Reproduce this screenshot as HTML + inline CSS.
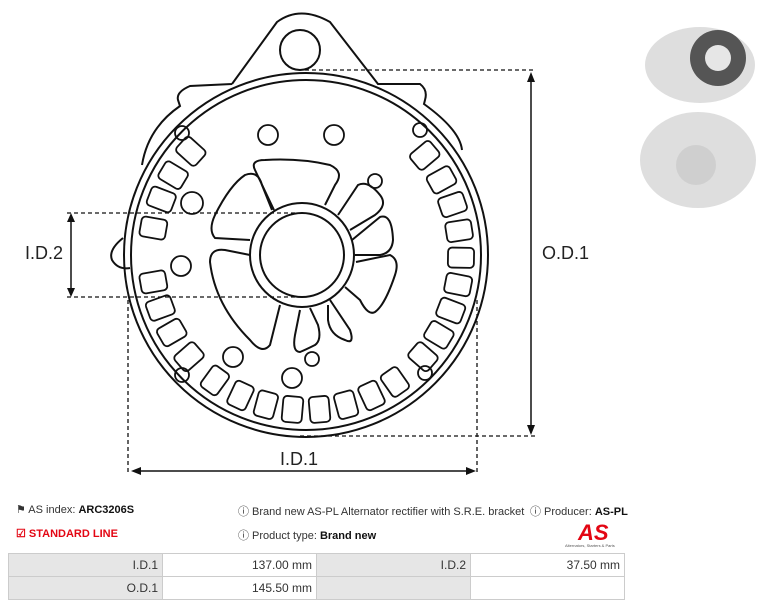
<!DOCTYPE html>
<html><head><meta charset="utf-8"><style>
body{margin:0;width:769px;height:608px;background:#fff;font-family:"Liberation Sans",sans-serif;position:relative;overflow:hidden}
.t{position:absolute;font-size:11px;color:#333;white-space:nowrap}
b{color:#111}
table{position:absolute;left:8px;top:553px;border-collapse:collapse;font-size:12px;color:#333;table-layout:fixed;width:616px}
td{border:1px solid #ccc;height:23px;width:154px;text-align:right;padding:0 4px;box-sizing:border-box}
td.g{background:#e6e6e6}
</style></head><body>
<svg width="769" height="608" style="position:absolute;left:0;top:0" fill="none" stroke="#111" stroke-width="2">
<path d="M232 84 L277 22 Q300 5 330 22 L378 84 L420 84 Q428 90 425 100 L424 104 Q460 130 462 150 M232 84 L190 86 Q176 92 178 100 L180 106 Q148 128 142 165"/>
<circle cx="300" cy="50" r="20"/>
<path d="M123 238 Q108 250 112 260 Q118 270 130 268"/>
<circle cx="306" cy="255" r="182"/>
<circle cx="306" cy="255" r="175"/>
<circle cx="302" cy="255" r="52"/>
<circle cx="302" cy="255" r="42"/>
<g stroke-width="2">
<path d="M274 210 L255 170 Q250 160 265 160 Q300 158 330 165 Q345 172 335 185 L325 205"/>
<path d="M338 215 L358 185 Q368 180 380 195 Q388 205 375 215 L350 230"/>
<path d="M352 240 L380 217 Q392 213 393 240 Q392 253 380 255 L355 255"/>
<path d="M356 262 L390 255 Q400 260 395 275 Q385 305 375 312 Q368 316 360 300 L345 287"/>
<path d="M330 300 L350 330 Q355 345 345 340 Q330 335 328 320 L328 305"/>
<path d="M310 308 L318 325 Q322 340 315 345 Q305 350 300 352 Q292 352 295 335 L300 310"/>
<path d="M280 305 L270 345 Q262 355 250 340 Q215 305 210 262 Q210 248 225 250 L250 255"/>
<path d="M250 240 L215 238 Q208 230 215 215 Q230 185 245 175 Q258 170 262 185 L272 210"/>
</g>
<g stroke-width="1.8">
<circle cx="268" cy="135" r="10"/><circle cx="334" cy="135" r="10"/><circle cx="375" cy="181" r="7"/>
<circle cx="192" cy="203" r="11"/><circle cx="181" cy="266" r="10"/><circle cx="233" cy="357" r="10"/>
<circle cx="292" cy="378" r="10"/><circle cx="312" cy="359" r="7"/>
<circle cx="182" cy="133" r="7"/><circle cx="420" cy="130" r="7"/><circle cx="182" cy="375" r="7"/><circle cx="425" cy="373" r="7"/>
</g>
<g stroke-width="1.8">
<rect x="296" y="87" width="20" height="26" rx="4" transform="rotate(50 306 255)"/>
<rect x="296" y="87" width="20" height="26" rx="4" transform="rotate(61 306 255)"/>
<rect x="296" y="87" width="20" height="26" rx="4" transform="rotate(71 306 255)"/>
<rect x="296" y="87" width="20" height="26" rx="4" transform="rotate(81 306 255)"/>
<rect x="296" y="87" width="20" height="26" rx="4" transform="rotate(91 306 255)"/>
<rect x="296" y="87" width="20" height="26" rx="4" transform="rotate(101 306 255)"/>
<rect x="296" y="87" width="20" height="26" rx="4" transform="rotate(111 306 255)"/>
<rect x="296" y="87" width="20" height="26" rx="4" transform="rotate(121 306 255)"/>
<rect x="296" y="87" width="20" height="26" rx="4" transform="rotate(131 306 255)"/>
<rect x="296" y="87" width="20" height="26" rx="4" transform="rotate(145 306 255)"/>
<rect x="296" y="87" width="20" height="26" rx="4" transform="rotate(155 306 255)"/>
<rect x="296" y="87" width="20" height="26" rx="4" transform="rotate(165 306 255)"/>
<rect x="296" y="87" width="20" height="26" rx="4" transform="rotate(175 306 255)"/>
<rect x="296" y="87" width="20" height="26" rx="4" transform="rotate(185 306 255)"/>
<rect x="296" y="87" width="20" height="26" rx="4" transform="rotate(195 306 255)"/>
<rect x="296" y="87" width="20" height="26" rx="4" transform="rotate(205 306 255)"/>
<rect x="296" y="87" width="20" height="26" rx="4" transform="rotate(216 306 255)"/>
<rect x="296" y="87" width="20" height="26" rx="4" transform="rotate(229 306 255)"/>
<rect x="296" y="87" width="20" height="26" rx="4" transform="rotate(240 306 255)"/>
<rect x="296" y="87" width="20" height="26" rx="4" transform="rotate(250 306 255)"/>
<rect x="296" y="87" width="20" height="26" rx="4" transform="rotate(260 306 255)"/>
<rect x="296" y="87" width="20" height="26" rx="4" transform="rotate(280 306 255)"/>
<rect x="296" y="87" width="20" height="26" rx="4" transform="rotate(291 306 255)"/>
<rect x="296" y="87" width="20" height="26" rx="4" transform="rotate(301 306 255)"/>
<rect x="296" y="87" width="20" height="26" rx="4" transform="rotate(312 306 255)"/>
</g>
<g stroke-width="1.3" stroke-dasharray="4,3">
<path d="M305 70 H535 M300 436 H535 M67 213 H295 M67 297 H295 M128 300 V475 M477 300 V475"/>
</g>
<g stroke-width="1.5">
<path d="M531 76 V431 M71 217 V293 M135 471 H472"/>
</g>
<g fill="#111" stroke="none">
<path d="M531 72 l-4 10 h8z M531 435 l-4 -10 h8z M71 213 l-4 9 h8z M71 297 l-4 -9 h8z M131 471 l10 -4 v8z M476 471 l-10 -4 v8z"/>
</g>
<g fill="#dedede" stroke="none">
<ellipse cx="700" cy="65" rx="55" ry="38"/><circle cx="718" cy="58" r="28" fill="#555"/><circle cx="718" cy="58" r="13" fill="#e6e6e6"/>
<ellipse cx="698" cy="160" rx="58" ry="48"/><circle cx="696" cy="165" r="20" fill="#cfcfcf"/>
</g>
</svg>
<div style="position:absolute;left:542px;top:243px;font-size:18px;color:#222">O.D.1</div>
<div style="position:absolute;left:25px;top:243px;font-size:18px;color:#222">I.D.2</div>
<div style="position:absolute;left:280px;top:449px;font-size:18px;color:#222">I.D.1</div>
<div class="t" style="left:16px;top:503px">&#9873; AS index: <b>ARC3206S</b></div>
<div class="t" style="left:16px;top:527px;color:#e30613;font-weight:bold">&#9745; STANDARD LINE</div>
<div class="t" style="left:238px;top:503px">&#9432; Brand new AS-PL Alternator rectifier with S.R.E. bracket</div>
<div class="t" style="left:530px;top:503px">&#9432; Producer: <b>AS-PL</b></div>
<div class="t" style="left:238px;top:527px">&#9432; Product type: <b>Brand new</b></div>
<div style="position:absolute;left:578px;top:520px;font:italic bold 22px 'Liberation Sans',sans-serif;color:#e30613">AS</div>
<div style="position:absolute;left:565px;top:543px;font-size:4px;color:#555">Alternators, Starters &amp; Parts</div>
<table>
<tr><td class="g">I.D.1</td><td>137.00 mm</td><td class="g">I.D.2</td><td>37.50 mm</td></tr>
<tr><td class="g">O.D.1</td><td>145.50 mm</td><td class="g"></td><td></td></tr>
</table>
</body></html>
